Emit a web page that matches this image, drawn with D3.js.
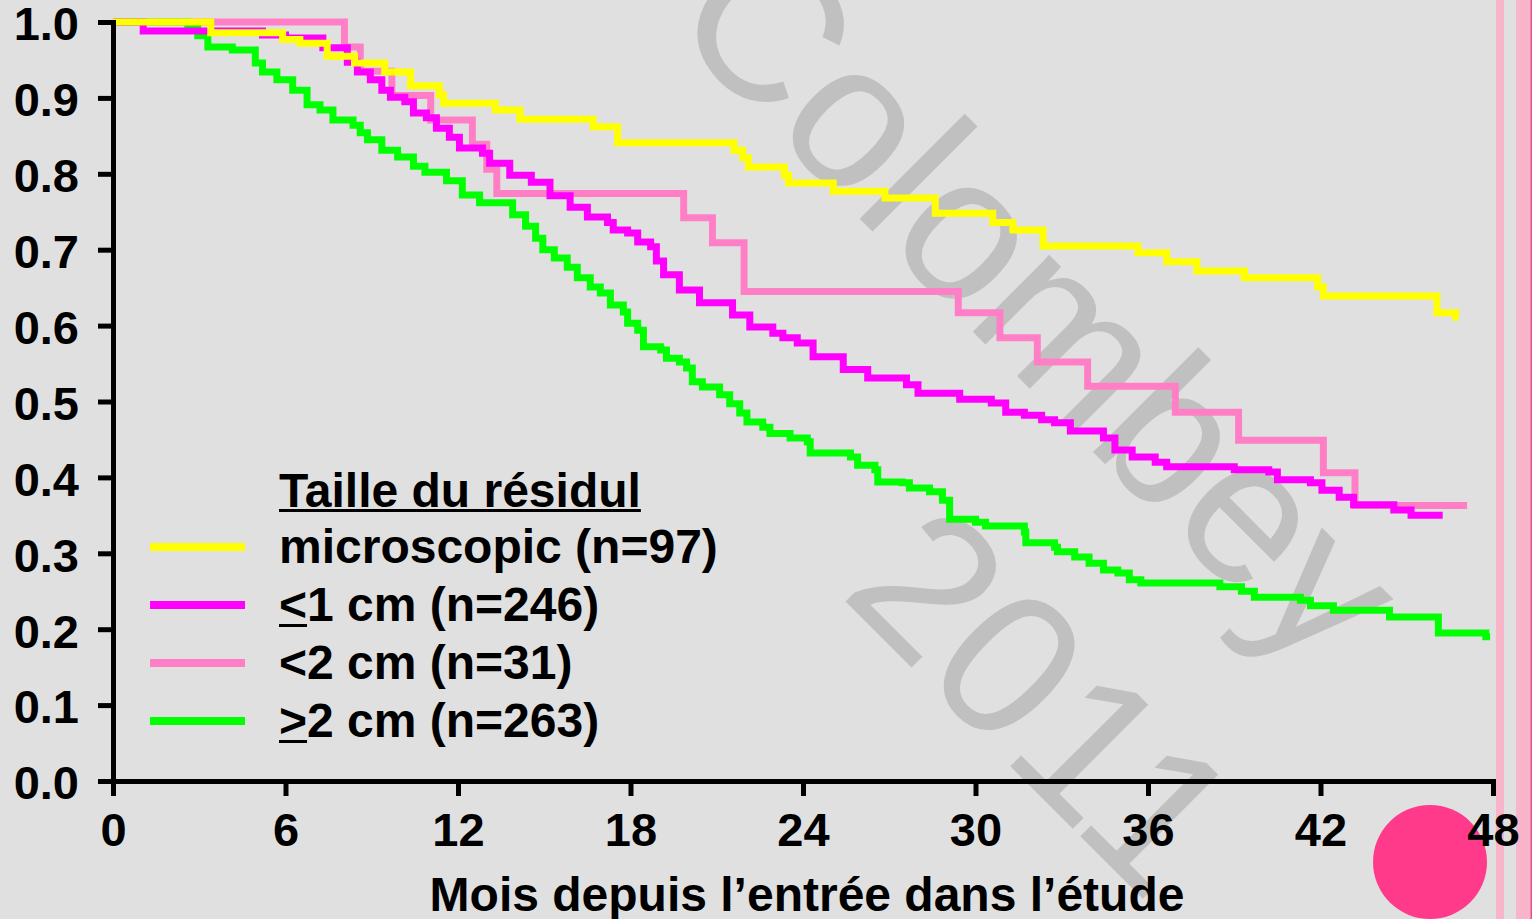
<!DOCTYPE html>
<html>
<head>
<meta charset="utf-8">
<script src="https://cdn.jsdelivr.net/npm/d3@7"></script>
<style>
  html, body { margin: 0; padding: 0; background: #e0e0e0; overflow: hidden; }
  svg { display: block; }
  text { font-family: "Liberation Sans", Arial, sans-serif; }
</style>
</head>
<body>
<svg id="chart" width="1532" height="919"></svg>
<script>
// survival curves, [month, proportion]
const microscopic = [[0,1],[3.4,0.986],[5.9,0.977],[6.5,0.972],[7.45,0.955],[8.4,0.946],[9.45,0.934],[10.35,0.916],[11.35,0.904],[11.5,0.893],[13.3,0.884],[14.15,0.872],[16.7,0.862],[17.55,0.841],[21.6,0.831],[21.9,0.821],[22.1,0.809],[23.35,0.798],[23.5,0.788],[25.05,0.777],[26.85,0.768],[28.6,0.748],[30.6,0.736],[31.3,0.726],[32.35,0.705],[35.65,0.696],[36.65,0.684],[37.7,0.672],[39.35,0.663],[41.9,0.651],[42.1,0.639],[46.05,0.617],[46.7,0.611],[46.8,0.611]];

const le1cm = [[0,1],[1.05,0.988],[5.2,0.983],[6.0,0.979],[7.3,0.966],[8.15,0.947],[8.5,0.934],[8.95,0.924],[9.35,0.910],[9.65,0.901],[10.15,0.895],[10.45,0.880],[10.9,0.874],[11.25,0.860],[11.7,0.848],[12.05,0.834],[12.85,0.827],[13.1,0.814],[13.8,0.798],[14.55,0.789],[15.2,0.771],[15.9,0.756],[16.5,0.743],[17.2,0.736],[17.4,0.726],[17.9,0.722],[18.25,0.710],[18.7,0.704],[18.9,0.685],[19.15,0.667],[19.7,0.647],[20.4,0.630],[21.55,0.614],[22.15,0.598],[22.95,0.590],[23.3,0.584],[23.8,0.577],[24.35,0.559],[25.4,0.542],[26.25,0.531],[27.6,0.522],[28.0,0.511],[29.45,0.503],[30.55,0.498],[31.05,0.486],[31.7,0.482],[32.3,0.476],[32.75,0.472],[33.3,0.461],[34.45,0.452],[34.85,0.436],[35.45,0.427],[36.25,0.420],[36.65,0.414],[39.0,0.410],[40.2,0.407],[40.5,0.397],[41.65,0.393],[42.05,0.383],[42.65,0.374],[43.15,0.364],[44.55,0.357],[45.15,0.350],[46.25,0.350]];

const lt2cm = [[0,1],[8.05,0.967],[8.6,0.935],[9.7,0.903],[11.05,0.871],[12.5,0.839],[13.0,0.806],[13.35,0.774],[19.85,0.742],[20.85,0.709],[21.95,0.645],[29.4,0.617],[30.85,0.584],[32.15,0.552],[33.9,0.520],[36.95,0.486],[39.15,0.449],[42.1,0.406],[43.2,0.363],[47.1,0.363]];

const ge2cm = [[0,1],[2.6,0.995],[2.95,0.982],[3.3,0.967],[4.15,0.963],[4.95,0.946],[5.2,0.934],[5.7,0.924],[6.25,0.910],[6.75,0.891],[7.2,0.884],[7.65,0.871],[8.35,0.864],[8.6,0.854],[8.85,0.845],[9.35,0.831],[9.9,0.822],[10.45,0.810],[10.85,0.802],[11.6,0.791],[12.15,0.772],[12.75,0.762],[13.9,0.746],[14.35,0.731],[14.7,0.715],[14.95,0.700],[15.35,0.689],[15.8,0.677],[16.15,0.663],[16.6,0.651],[16.95,0.643],[17.3,0.627],[17.75,0.618],[17.9,0.603],[18.25,0.594],[18.45,0.572],[19.05,0.568],[19.25,0.557],[19.7,0.552],[19.95,0.544],[20.15,0.526],[20.5,0.519],[21.1,0.509],[21.45,0.497],[21.8,0.485],[22.05,0.473],[22.6,0.466],[22.85,0.458],[23.55,0.452],[24.15,0.447],[24.25,0.432],[25.65,0.427],[25.9,0.416],[26.5,0.410],[26.6,0.394],[27.45,0.393],[27.7,0.386],[28.4,0.381],[28.85,0.370],[29.1,0.345],[30.0,0.341],[30.35,0.336],[31.7,0.328],[31.75,0.314],[32.75,0.308],[32.85,0.302],[33.45,0.295],[33.95,0.287],[34.45,0.278],[34.95,0.274],[35.35,0.265],[35.75,0.261],[38.5,0.256],[39.25,0.250],[39.7,0.242],[41.3,0.238],[41.65,0.231],[42.45,0.225],[44.4,0.216],[46.1,0.195],[47.75,0.190],[47.9,0.190]];

const xTicks = [0, 6, 12, 18, 24, 30, 36, 42, 48];
const yTicks = [0, 0.1, 0.2, 0.3, 0.4, 0.5, 0.6, 0.7, 0.8, 0.9, 1.0];

const legendTitle = "Taille du résidul";
const legendLabels = ["microscopic (n=97)", "<1 cm (n=246)", "<2 cm (n=31)", ">2 cm (n=263)"];
const legendUnderFirst = [false, true, false, true];   // underlined < and > stand for ≤ / ≥
const xTitle = "Mois depuis l\u2019entrée dans l\u2019étude";
const watermark = ["Colombey", "2011"];

const series = [
  { data: lt2cm, color: "#ff7fc6" },
  { data: ge2cm, color: "#00ff00" },
  { data: le1cm, color: "#ff00ff" },
  { data: microscopic, color: "#ffff00" }
];
const legendColors = ["#ffff00", "#ff00ff", "#ff7fc6", "#00ff00"];

const svg = d3.select("#chart");
svg.append("rect").attr("width", 1532).attr("height", 919).attr("fill", "#e0e0e0");

// watermark behind everything
const wm = [[991, 350], [994, 750]];
watermark.forEach((w, i) => {
  svg.append("text")
    .attr("transform", "translate(" + wm[i][0] + "," + wm[i][1] + ") rotate(45)")
    .attr("text-anchor", "middle")
    .attr("font-size", 205)
    .attr("fill", "#c0c0c0")
    .text(w);
});

// decorations at the right edge
svg.append("rect").attr("x", 1496).attr("y", 0).attr("width", 8).attr("height", 919).attr("fill", "#f8b4c8");
svg.append("rect").attr("x", 1516).attr("y", 0).attr("width", 16).attr("height", 919).attr("fill", "#f8b4c8");
svg.append("rect").attr("x", 1530.5).attr("y", 0).attr("width", 1.5).attr("height", 919).attr("fill", "#e8508a");
svg.append("circle").attr("cx", 1430).attr("cy", 862).attr("r", 57).attr("fill", "#ff3a8a");

const x = d3.scaleLinear().domain([0, 48]).range([113, 1493]);
const y = d3.scaleLinear().domain([0, 1]).range([781, 22]);

const line = d3.line()
  .x(d => x(d[0]))
  .y(d => y(d[1]))
  .curve(d3.curveStepAfter);

series.forEach(s => {
  svg.append("path")
    .datum(s.data)
    .attr("d", line)
    .attr("fill", "none")
    .attr("stroke", s.color)
    .attr("stroke-width", 7)
    .attr("stroke-linejoin", "miter");
});

// axes
const gx = svg.append("g")
  .attr("transform", "translate(0,781)")
  .call(d3.axisBottom(x).tickValues(xTicks).tickSize(15).tickSizeOuter(0).tickPadding(17).tickFormat(d3.format("d")));
const gy = svg.append("g")
  .attr("transform", "translate(113,0)")
  .call(d3.axisLeft(y).tickValues(yTicks).tickSize(15).tickSizeOuter(0).tickPadding(19).tickFormat(d3.format(".1f")));

[gx, gy].forEach(g => {
  g.selectAll("path, line").attr("stroke", "#000").attr("stroke-width", 5);
  g.select(".domain").attr("stroke-linecap", "square");
  g.selectAll("text")
    .attr("font-size", 47)
    .attr("font-weight", "bold")
    .attr("fill", "#000")
    .attr("font-family", "'Liberation Sans', Arial, sans-serif");
});
gy.selectAll("text").attr("dy", "0.38em");

svg.append("text")
  .attr("x", 807).attr("y", 911)
  .attr("text-anchor", "middle")
  .attr("font-size", 48)
  .attr("font-weight", "bold")
  .text(xTitle);

// legend
const lg = svg.append("g");
const tt = lg.append("text")
  .attr("x", 279).attr("y", 507)
  .attr("font-size", 48).attr("font-weight", "bold")
  .text(legendTitle);
const tw = tt.node().getComputedTextLength();
lg.append("rect").attr("x", 279).attr("y", 509).attr("width", tw).attr("height", 3).attr("fill", "#000");

const rowY = [547, 605, 663, 721];
legendLabels.forEach((lab, i) => {
  lg.append("line")
    .attr("x1", 150).attr("x2", 245)
    .attr("y1", rowY[i]).attr("y2", rowY[i])
    .attr("stroke", legendColors[i]).attr("stroke-width", 8);
  const t = lg.append("text")
    .attr("x", 279).attr("y", rowY[i] + 16)
    .attr("font-size", 48).attr("font-weight", "bold")
    .text(lab);
  if (legendUnderFirst[i]) {
    const w = t.node().getSubStringLength(0, 1);
    lg.append("rect").attr("x", 279).attr("y", rowY[i] + 19).attr("width", w).attr("height", 3).attr("fill", "#000");
  }
});
</script>
</body>
</html>
